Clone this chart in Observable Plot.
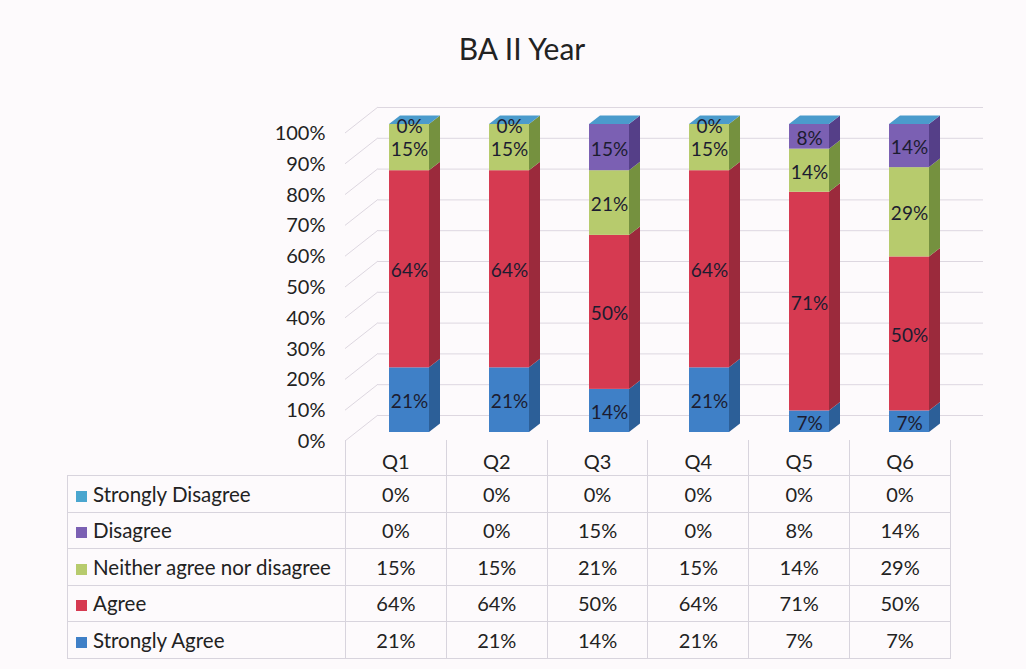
<!DOCTYPE html>
<html><head><meta charset="utf-8">
<script src="https://cdn.jsdelivr.net/npm/d3@7"></script>
<script src="https://cdn.jsdelivr.net/npm/@observablehq/plot@0.6"></script>
<style>
body{margin:0;background:#fdfafc;font-family:Lato,"Open Sans",sans-serif;}
#wrap{position:relative;width:1026px;height:669px;overflow:hidden;background:#fdfafc;}
#chart{position:absolute;left:0;top:0;}
#title{position:absolute;left:0;width:1044px;top:30px;text-align:center;font-size:30px;line-height:36px;color:#222;}
#tbl{position:absolute;left:67px;top:440px;border-collapse:collapse;table-layout:fixed;color:#222;font-size:20px;}
#tbl td{border:1px solid #d8d4dd;padding:0;text-align:center;vertical-align:middle;height:35.5px;}
#tbl tr.head td{border-top:none;vertical-align:bottom;padding-bottom:2px;height:33px;}
#tbl tr.head td.blank{border:none;}
#tbl td.lab{text-align:left;padding-left:8px;white-space:nowrap;font-size:20.5px;}
.sw{display:inline-block;width:11px;height:11px;margin-right:6px;vertical-align:0px;}
</style></head>
<body><div id="wrap"><div id="chart"></div><div id="title">BA II Year</div><table id="tbl"></table></div>
<script>
const questions = ["Q1","Q2","Q3","Q4","Q5","Q6"];
const stronglyAgree    = [21,21,14,21,7,7];
const agree            = [64,64,50,64,71,50];
const neither          = [15,15,21,15,14,29];
const disagree         = [0,0,15,0,8,14];
const stronglyDisagree = [0,0,0,0,0,0];
const seriesNames = ["Strongly Agree","Agree","Neither agree nor disagree","Disagree","Strongly Disagree"];
const seriesValues = [stronglyAgree, agree, neither, disagree, stronglyDisagree];
const yTicks = [0,10,20,30,40,50,60,70,80,90,100];

const frontColors = ["#3f80c7","#d63a51","#b7cb6d","#7b60b3","#4aa6cf"];
const sideColors  = ["#2c5f98","#9b2a3c","#75913f","#553f88","#2f7ea0"];
const topColors   = ["#4f8fcf","#e0566a","#c8d98a","#8f77c2","#4b9bcc"];

// stacked rows
const rows = [];
questions.forEach((q, i) => {
  let acc = 0;
  seriesNames.forEach((s, k) => {
    const v = seriesValues[k][i];
    rows.push({q, series: s, k, value: v, y1: acc, y2: acc + v, top: k === seriesNames.length - 1});
    acc += v;
  });
});

const F = {x: 11, y: -9};     // front face offset (depth 1/3)
const S = {x: 11, y: -8.5};   // bar depth
const W = {x: 33, y: -26};    // wall depth
const INSET = 30;

function getScales(args) {
  return args.find(a => a && typeof a === "object" && typeof a.x === "function" && typeof a.y === "function");
}

function extrude(...args) {
  const {x, y} = getScales(args);
  const bw = x.bandwidth();
  const g = d3.create("svg:g");
  rows.forEach(d => {
    const xl = x(d.q) + INSET + F.x, xr = x(d.q) + bw - INSET + F.x;
    const yt = y(d.y2) + F.y, yb = y(d.y1) + F.y;
    if (d.value > 0) {
      g.append("polygon")
        .attr("points", [[xr, yt], [xr + S.x, yt + S.y], [xr + S.x, yb + S.y], [xr, yb]].join(" "))
        .attr("fill", sideColors[d.k]);
    }
    if (d.top) {
      g.append("polygon")
        .attr("points", [[xl, yt], [xr, yt], [xr + S.x, yt + S.y], [xl + S.x, yt + S.y]].join(" "))
        .attr("fill", topColors[d.k]);
    }
  });
  return g.node();
}

function walls(...args) {
  const {x, y} = getScales(args);
  const x0 = Math.min(...x.range());
  const g = d3.create("svg:g").attr("stroke", "#ddd7e0").attr("stroke-width", 1);
  yTicks.forEach(v => {
    g.append("line").attr("x1", x0).attr("y1", y(v)).attr("x2", x0 + W.x).attr("y2", y(v) + W.y);
  });
  return g.node();
}

const labelRows = rows.filter(d => d.value > 0 || (d.series === "Disagree" && d.y2 === 100));

const plot = Plot.plot({
  width: 1026, height: 462,
  marginLeft: 345, marginRight: 76, marginTop: 133, marginBottom: 21,
  style: {background: "transparent", fontFamily: "Lato, 'Open Sans', sans-serif", fontSize: "19px", color: "#222"},
  x: {domain: questions, padding: 0, axis: null},
  y: {domain: [0, 100]},
  color: {domain: seriesNames, range: frontColors},
  marks: [
    Plot.ruleY(yTicks, {stroke: "#ddd7e0", dx: W.x, dy: W.y}),
    walls,
    Plot.axisY({ticks: yTicks, tickFormat: d => d + "%", tickSize: 0, tickPadding: 20, fontSize: 20, fill: "#222"}),
    Plot.barY(rows.filter(d => d.value > 0), {x: "q", y1: "y1", y2: "y2", fill: "series", insetLeft: INSET, insetRight: INSET, dx: F.x, dy: F.y}),
    extrude,
    Plot.text(labelRows, {x: "q", y: d => (d.y1 + d.y2) / 2, text: d => d.value + "%", dx: F.x, dy: F.y + 2, fontSize: 19, fill: "#1c1c30"})
  ]
});
document.getElementById("chart").appendChild(plot);

// data table
const tbl = d3.select("#tbl");
const cg = tbl.append("colgroup");
cg.append("col").style("width", "278px");
questions.forEach(() => cg.append("col").style("width", "100.83px"));
const head = tbl.append("tr").attr("class", "head");
head.append("td").attr("class", "blank");
questions.forEach(q => head.append("td").text(q));
for (let k = seriesNames.length - 1; k >= 0; k--) {
  const tr = tbl.append("tr");
  const lab = tr.append("td").attr("class", "lab");
  lab.append("span").attr("class", "sw").style("background", frontColors[k]);
  lab.append("span").text(seriesNames[k]);
  seriesValues[k].forEach(v => tr.append("td").text(v + "%"));
}
</script></body></html>
